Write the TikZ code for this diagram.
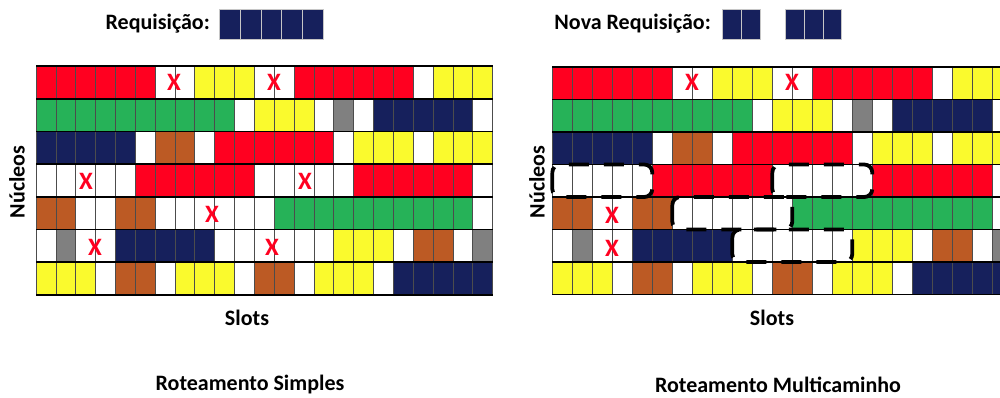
\documentclass[tikz,border=0pt]{standalone}
\usepackage{fontspec}
\setmainfont{Carlito}
\definecolor{cr}{RGB}{255,0,32}
\definecolor{cy}{RGB}{250,250,45}
\definecolor{cg}{RGB}{38,178,88}
\definecolor{cn}{RGB}{22,32,92}
\definecolor{cb}{RGB}{188,90,36}
\definecolor{ck}{RGB}{128,128,128}
\definecolor{cw}{RGB}{255,255,255}
\newcommand{\gridrows}{%
	{r,r,r,r,r,r,w,w,y,y,y,w,w,r,r,r,r,r,r,w,y,y,y},%
	{g,g,g,g,g,g,g,g,g,g,w,y,y,y,w,k,w,n,n,n,n,n,w},%
	{n,n,n,n,n,w,b,b,w,r,r,r,r,r,r,w,y,y,y,w,y,y,y},%
	{w,w,w,w,w,r,r,r,r,r,r,w,w,w,w,w,r,r,r,r,r,r,w},%
	{b,b,w,w,b,b,w,w,w,w,w,w,g,g,g,g,g,g,g,g,g,g,w},%
	{w,k,w,w,n,n,n,n,n,w,w,w,w,w,w,y,y,y,w,b,b,w,k},%
	{y,y,y,w,b,b,w,y,y,y,w,b,b,w,y,y,y,w,n,n,n,n,n}}
\tikzset{
	cell/.style={draw=black!70, line width=0.7pt},
	rowline/.style={black, line width=1.6pt},
	lbl/.style={font=\fontsize{22}{26}\selectfont\bfseries, inner sep=0pt},
	xmark/.style={text=cr, font=\fontsize{25}{28}\selectfont\bfseries, inner sep=0pt},
	reqcell/.style={fill=cn, draw=gray!45, line width=0.6pt},
	newpath/.style={draw=black, line width=3.8pt, dash pattern=on 20pt off 15pt, rounded corners=8pt}
}
\begin{document}
\begin{tikzpicture}[x=1pt, y=-1pt]
	\useasboundingbox (0,0) rectangle (1000,397);
	\clip (0,0) rectangle (1000,397);

	\begin{scope}[shift={(36,66)}, x=19.85pt, y=-32.7pt]
		\foreach \row [count=\i from 0] in \gridrows {
			\foreach \c [count=\j from 0] in \row {
				\filldraw[cell, fill=c\c] (\j,\i) rectangle ++(1,1);
			}
		}
		\foreach \i in {0,...,7} \draw[rowline] (0,\i) -- (23,\i);
	\end{scope}

	\begin{scope}[shift={(552.3,67)}, x=20pt, y=-32.5pt]
		\foreach \row [count=\i from 0] in \gridrows {
			\foreach \c [count=\j from 0] in \row {
				\filldraw[cell, fill=c\c] (\j,\i) rectangle ++(1,1);
			}
		}
		\foreach \i in {0,...,7} \draw[rowline] (0,\i) -- (23,\i);
	\end{scope}

	\foreach \p [count=\k] in {(174,82),(274,82),(86,181),(305,181),(212,214),(95,247),(272,247),(692,82),(792,82),(612,215),(612,248)}
		\node[xmark] (x\k) at \p {X};

	\draw[newpath] (552.3,164.5) rectangle (652.3,197);
	\draw[newpath] (672.3,197) rectangle (792.3,229.5);
	\draw[newpath] (732.3,229.5) rectangle (852.3,262);
	\draw[newpath] (772.3,164.5) rectangle (872.3,197);

	\node[lbl, anchor=east] (req) at (210,24) {Requisição:};
	\foreach \k in {0,...,4} \filldraw[reqcell] (219.3+20.8*\k,9.3) rectangle ++(20.8,30);
	\node[lbl, anchor=east] (reqnova) at (711,24) {Nova Requisição:};
	\foreach \k in {0,1} \filldraw[reqcell] (722.7+18.7*\k,9.3) rectangle ++(18.7,30);
	\foreach \k in {0,1,2} \filldraw[reqcell] (785+18.9*\k,9.3) rectangle ++(18.9,30);

	\node[lbl, rotate=90] (nucL) at (17,182) {Núcleos};
	\node[lbl, rotate=90] (nucR) at (537,182) {Núcleos};
	\node[lbl] (slotsL) at (247,318) {Slots};
	\node[lbl] (slotsR) at (772,318) {Slots};
	\node[lbl] (titL) at (250,385) {Roteamento Simples};
	\node[lbl] (titR) at (778,385) {Roteamento Multicaminho};
\end{tikzpicture}
\end{document}
